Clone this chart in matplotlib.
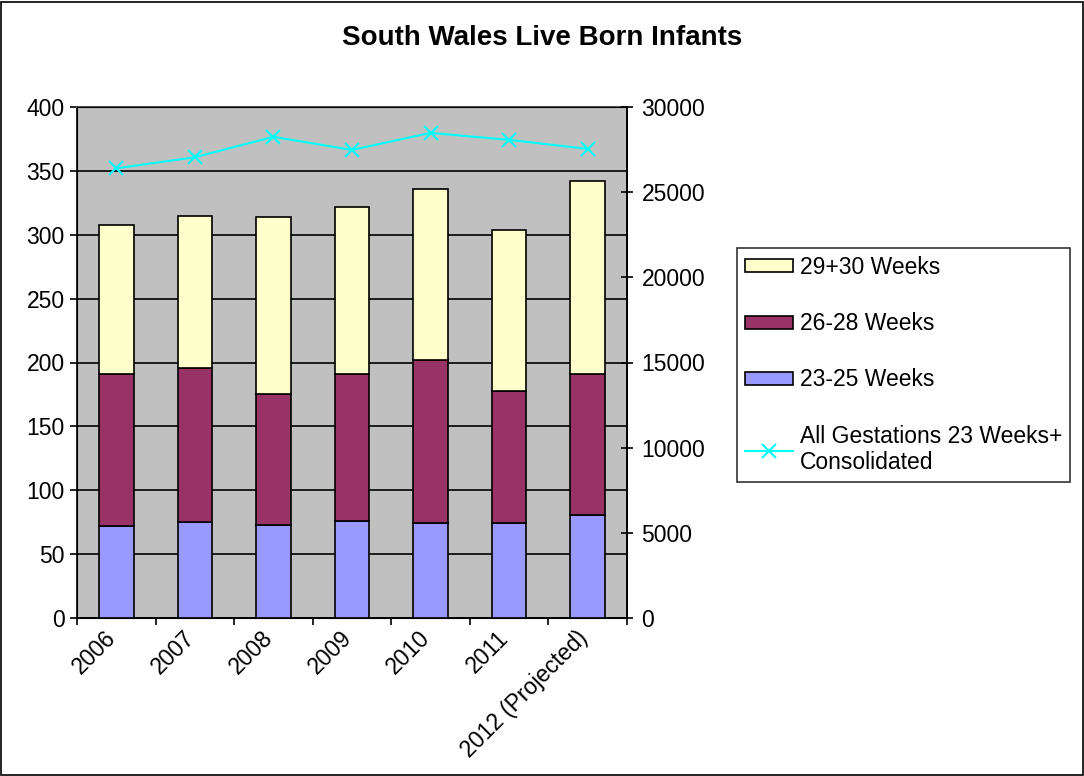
import numpy as np
import matplotlib
matplotlib.use("Agg")
import matplotlib.pyplot as plt
from matplotlib.patches import Rectangle
from matplotlib.transforms import ScaledTranslation

plt.rcParams['font.family'] = ['Liberation Sans', 'DejaVu Sans']

years = ["2006", "2007", "2008", "2009", "2010", "2011", "2012 (Projected)"]
w23_25 = [72, 75, 73, 76, 74, 74, 81]
w26_28 = [119, 121, 102, 115, 128, 104, 110]
w29_30 = [117, 119, 139, 131, 134, 126, 151]
all_gest = [26400, 27050, 28250, 27480, 28480, 28070, 27540]

fs = 16.5

fig = plt.figure(figsize=(10.84, 7.76), dpi=100)
fig.patches.append(Rectangle((0.001, 0.001), 0.998, 0.997, transform=fig.transFigure,
                             fill=False, edgecolor='black', linewidth=1.2))

ax = fig.add_axes([77/1084, 1 - 618/776, 550/1084, 511/776])
ax.set_facecolor('#C0C0C0')
x = np.arange(len(years))
bw = 0.44
b1 = ax.bar(x, w23_25, bw, color='#9999FF', edgecolor='black', linewidth=1.2, zorder=3)
bottom2 = np.array(w23_25)
b2 = ax.bar(x, w26_28, bw, bottom=bottom2, color='#993366', edgecolor='black', linewidth=1.2, zorder=3)
bottom3 = bottom2 + np.array(w26_28)
b3 = ax.bar(x, w29_30, bw, bottom=bottom3, color='#FFFFCC', edgecolor='black', linewidth=1.2, zorder=3)

ax.set_xlim(-0.5, len(years) - 0.5)
ax.set_ylim(0, 400)
ax.set_yticks(np.arange(0, 401, 50))
ax.yaxis.grid(True, color='black', linewidth=1.2, zorder=1)
ax.set_axisbelow(True)
ax.set_xticks(np.arange(-0.5, len(years), 1))
ax.set_xticklabels([])
ax.set_xticks(x, minor=True)
ax.set_xticklabels(years, minor=True, rotation=45, ha='right', rotation_mode='anchor', fontsize=fs)
ax.tick_params(axis='x', which='minor', length=0, pad=6)
for lbl in ax.get_xticklabels(minor=True):
    lbl.set_transform(lbl.get_transform() + ScaledTranslation(-0.12, 0, fig.dpi_scale_trans))
ax.tick_params(axis='x', which='major', length=5, width=1.2, direction='out')
ax.tick_params(axis='y', length=5, width=1.2, direction='out', labelsize=fs, pad=4)
for s in ['left', 'bottom', 'right']:
    ax.spines[s].set_linewidth(1.2)
    ax.spines[s].set_color('black')
ax.spines['top'].set_color('#555555')
ax.spines['top'].set_linewidth(1.5)

ax2 = ax.twinx()
line, = ax2.plot(x, all_gest, color='#00FFFF', marker='x', markersize=10, markeredgewidth=1.5,
                 linewidth=1.5, zorder=4)
ax2.set_ylim(0, 30000)
ax2.set_yticks(np.arange(0, 30001, 5000))
ax2.tick_params(axis='y', length=9, width=1.2, direction='inout', labelsize=fs, pad=6)
ax2.spines['right'].set_linewidth(1.2)

fig.text(0.5, 1 - 38/776, "South Wales Live Born Infants", ha='center', va='center',
         fontsize=20, fontweight='bold')

leg = fig.legend([b3, b2, b1, line],
                 ["29+30 Weeks", "26-28 Weeks", "23-25 Weeks", "All Gestations 23 Weeks+\nConsolidated"],
                 loc='upper left', bbox_to_anchor=(737/1084, 1 - 248/776),
                 fontsize=fs, labelspacing=1.45, handlelength=2.1, handleheight=0.5,
                 handletextpad=0.3, borderpad=0.35, borderaxespad=0, fancybox=False, frameon=True)
leg.get_frame().set_edgecolor('black')
leg.get_frame().set_linewidth(1.2)

fig.savefig("out.png", dpi=100)
